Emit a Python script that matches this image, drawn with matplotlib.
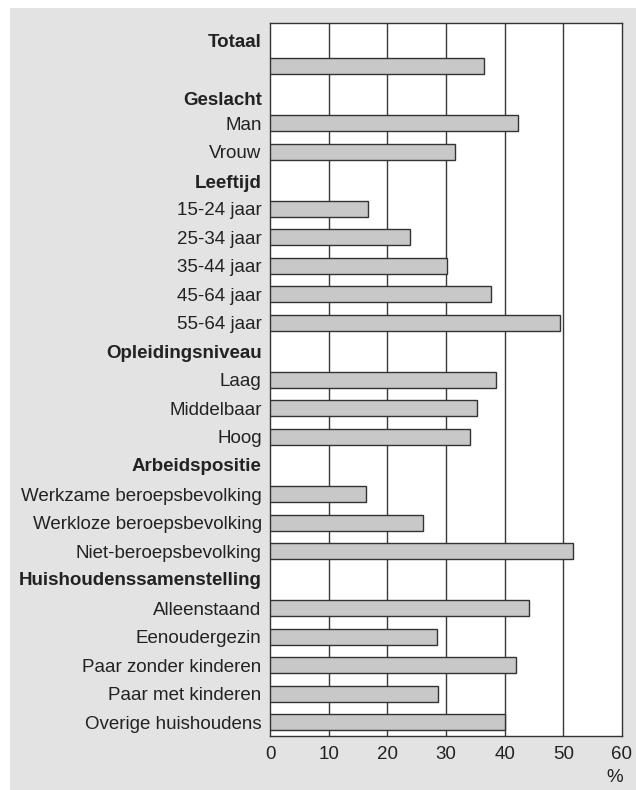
import matplotlib
matplotlib.use("Agg")
import matplotlib.pyplot as plt
from matplotlib.patches import Rectangle

plt.rcParams["font.family"] = ["Liberation Sans", "DejaVu Sans"]

# rows top to bottom; headers have no value (None)
labels = [
    "Totaal", "",
    "Geslacht", "Man", "Vrouw",
    "Leeftijd", "15-24 jaar", "25-34 jaar", "35-44 jaar", "45-64 jaar", "55-64 jaar",
    "Opleidingsniveau", "Laag", "Middelbaar", "Hoog",
    "Arbeidspositie", "Werkzame beroepsbevolking", "Werkloze beroepsbevolking",
    "Niet-beroepsbevolking",
    "Huishoudenssamenstelling", "Alleenstaand", "Eenoudergezin",
    "Paar zonder kinderen", "Paar met kinderen", "Overige huishoudens",
]
values = [
    None, 36.5,
    None, 42.2, 31.6,
    None, 16.7, 23.9, 30.1, 37.7, 49.4,
    None, 38.6, 35.2, 34.1,
    None, 16.4, 26.0, 51.7,
    None, 44.1, 28.4, 41.9, 28.6, 40.0,
]
xticks = [0, 10, 20, 30, 40, 50, 60]

# headers sit a little lower than their row in the original layout (pixels)
header_shift = {"Totaal": 5, "Geslacht": 6, "Leeftijd": 3,
                "Opleidingsniveau": 2, "Arbeidspositie": 1,
                "Huishoudenssamenstelling": 1}

W, H = 636, 790
fig = plt.figure(figsize=(W / 100, H / 100), dpi=100)
fig.patch.set_facecolor("white")
fig.patches.append(Rectangle((10 / W, 0), 1 - 10 / W, 1 - 8 / H,
                             transform=fig.transFigure, facecolor="#e3e3e3",
                             edgecolor="none", zorder=-10))

ax = fig.add_axes([270 / W, 1 - 736 / H, (622 - 270) / W, (736 - 23) / H])
ax.set_facecolor("white")

txt = "#222222"
fs = 13.5
ypos = list(range(len(labels)))
for y, v in zip(ypos, values):
    if v is None:
        continue
    ax.barh(y, v, height=0.56, color="#c8c8c8", edgecolor="#333333",
            linewidth=1.0, zorder=3)

for x in xticks[1:-1]:
    ax.axvline(x, color="#3a3a3a", linewidth=1.0, zorder=1)

ax.set_xlim(0, 60)
ax.set_ylim(24.48, -0.51)
ax.set_xticks(xticks)
ax.set_xticklabels([str(t) for t in xticks], fontsize=fs, color=txt)

# normal rows as tick labels, headers as bold annotations
ax.set_yticks(ypos)
ax.set_yticklabels([l if l not in header_shift else "" for l in labels],
                   fontsize=fs, color=txt)
for y, l in zip(ypos, labels):
    if l in header_shift:
        ax.annotate(l, xy=(0, y), xycoords=("axes fraction", "data"),
                    xytext=(-6, -header_shift[l] * 0.72),
                    textcoords="offset points", ha="right", va="center",
                    fontsize=fs, fontweight="bold", color=txt)

ax.tick_params(axis="both", length=0)
ax.tick_params(axis="y", pad=6)
ax.tick_params(axis="x", pad=7)
for s in ax.spines.values():
    s.set_color("#333333")
    s.set_linewidth(1.0)

fig.text(615 / W, 1 - 777 / H, "%", fontsize=fs, color=txt,
         ha="center", va="center")

fig.savefig("out.png", dpi=100)
